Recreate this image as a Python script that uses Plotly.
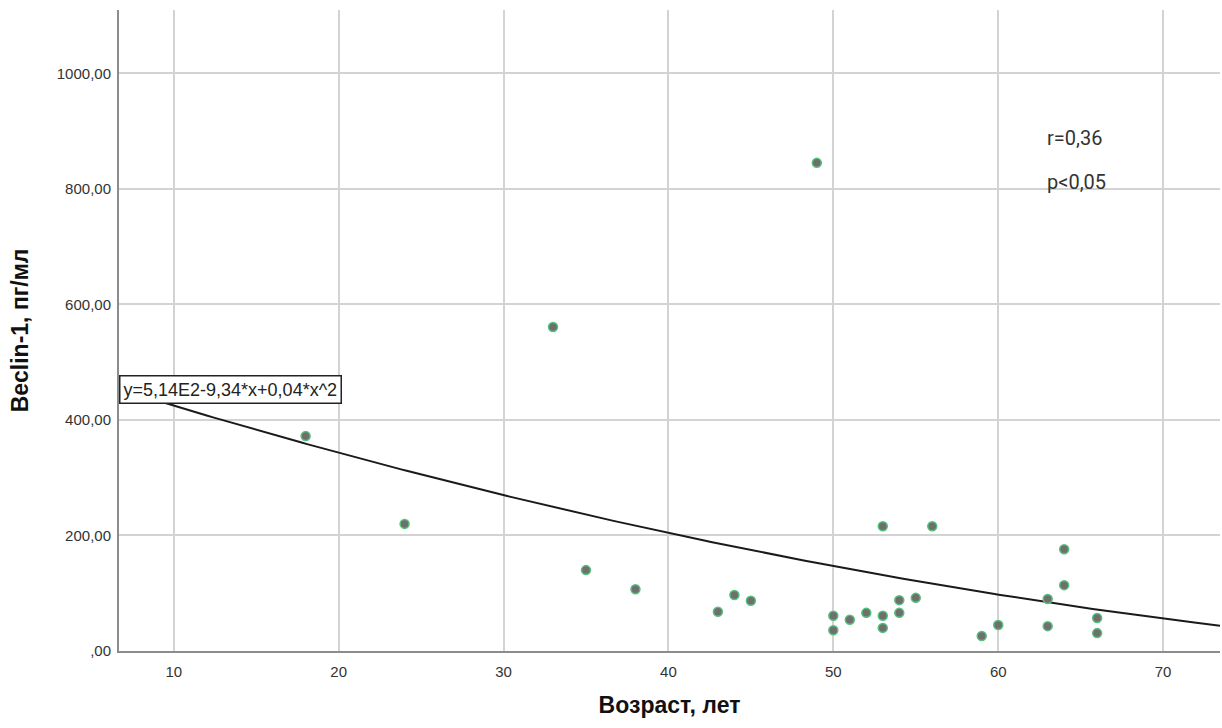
import numpy as np
import plotly.graph_objects as go

# Age (years) and Beclin-1 concentration (pg/ml)
age = [18, 24, 33, 35, 38, 43, 44, 45, 49, 50, 50, 51, 52, 53, 53, 53, 54, 54,
       55, 56, 59, 60, 63, 63, 64, 64, 66, 66]
beclin = [372, 220, 561, 140, 107, 68, 97, 87, 845, 61, 36, 54, 66, 216, 61, 40, 88, 66,
          92, 216, 26, 45, 90, 43, 176, 114, 57, 31]

# Quadratic fit coefficients: y = b0 + b1*x + b2*x^2
b0, b1, b2 = 514.0, -9.34, 0.04

x_range = [6.68, 73.45]
y_range = [0, 1109.6]

x_ticks = [10, 20, 30, 40, 50, 60, 70]
x_tick_text = ["10", "20", "30", "40", "50", "60", "70"]
y_ticks = [0, 200, 400, 600, 800, 1000]
y_tick_text = [",00", "200,00", "400,00", "600,00", "800,00", "1000,00"]

fit_x = np.linspace(x_range[0], x_range[1], 200)
fit_y = b0 + b1 * fit_x + b2 * fit_x ** 2

fig = go.Figure()
fig.add_trace(go.Scatter(
    x=fit_x, y=fit_y, mode="lines",
    line=dict(color="#1a1a1a", width=2),
    hoverinfo="skip", showlegend=False,
))
fig.add_trace(go.Scatter(
    x=age, y=beclin, mode="markers",
    marker=dict(size=9, color="#6f6f6f", line=dict(color="#55c27a", width=1.5)),
    showlegend=False,
))

fig.add_annotation(
    x=x_range[0], y=427, xref="x", yref="y", xanchor="left", yanchor="bottom",
    text="y=5,14E2-9,34*x+0,04*x^2", showarrow=False,
    font=dict(family="Liberation Sans, Arial, sans-serif", size=18, color="#222"),
    bgcolor="white", bordercolor="#222", borderwidth=1.5, borderpad=3,
)
fig.add_annotation(
    x=1045, y=138, xref="paper", yref="paper", showarrow=False,
    text="r=0,36", xanchor="left", yanchor="middle",
    font=dict(family="Roboto, Liberation Sans, sans-serif", size=20, color="#333"),
)
fig.add_annotation(
    x=1045, y=182, xref="paper", yref="paper", showarrow=False,
    text="p<0,05", xanchor="left", yanchor="middle",
    font=dict(family="Roboto, Liberation Sans, sans-serif", size=20, color="#333"),
)

# convert pixel placements of the r/p labels to paper coords
L, R, T, B = 119, 2, 10, 77
W, H = 1222, 728
pw, ph = W - L - R, H - T - B
for ann in fig.layout.annotations[1:]:
    ann.x = (ann.x - L) / pw
    ann.y = 1 - (ann.y - T) / ph

fig.update_layout(
    width=W, height=H,
    margin=dict(l=L, r=R, t=T, b=B),
    paper_bgcolor="white", plot_bgcolor="white",
    font=dict(family="Liberation Sans, Arial, sans-serif", size=15, color="#333"),
    xaxis=dict(
        range=x_range, tickvals=x_ticks, ticktext=x_tick_text,
        showgrid=True, gridcolor="#d3d3d3", gridwidth=1.5,
        showline=True, linecolor="#8c8c8c", linewidth=2,
        zeroline=False, ticks="", ticklabelstandoff=6,
        title=dict(text="<b>Возраст, лет</b>", font=dict(size=23, color="#111"), standoff=18),
    ),
    yaxis=dict(
        range=y_range, tickvals=y_ticks, ticktext=y_tick_text,
        showgrid=True, gridcolor="#d3d3d3", gridwidth=1.5,
        showline=True, linecolor="#8c8c8c", linewidth=2,
        zeroline=False, ticks="", ticklabelstandoff=3,
        title=dict(text="<b>Beclin-1, пг/мл</b>", font=dict(size=23, color="#111"), standoff=22),
    ),
)

fig.write_html("out.html")
